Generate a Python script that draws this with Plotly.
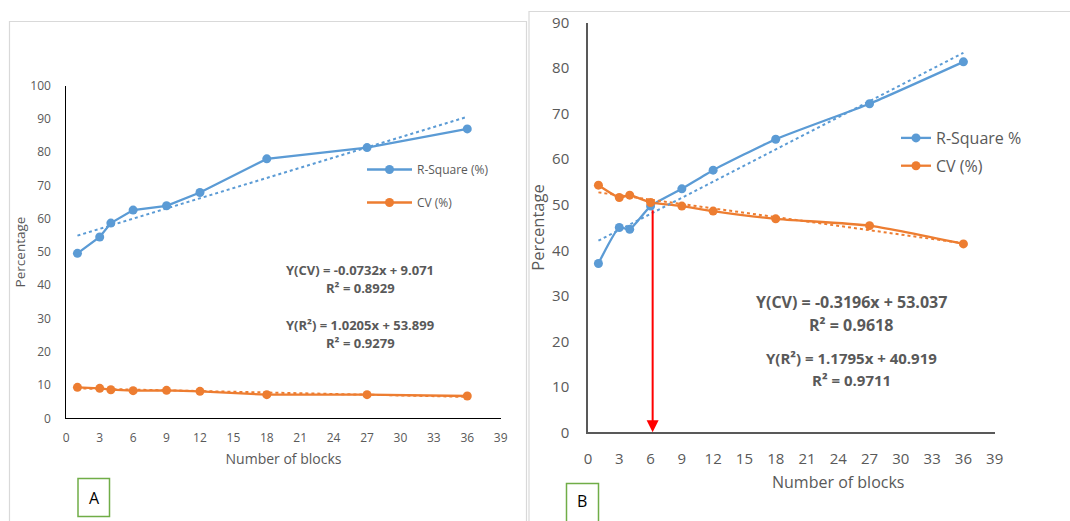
import plotly.graph_objects as go

# ---------------- data ----------------
blocks = [1, 3, 4, 6, 9, 12, 18, 27, 36]

a_rsq = [49.6, 54.5, 58.7, 62.6, 63.9, 67.9, 78.0, 81.4, 87.0]
a_cv = [9.3, 9.0, 8.6, 8.3, 8.4, 8.1, 7.1, 7.1, 6.7]

b_rsq = [37.1, 45.0, 44.6, 49.7, 53.5, 57.6, 64.4, 72.2, 81.4]
b_cv = [54.3, 51.6, 52.1, 50.5, 49.7, 48.6, 46.9, 45.4, 41.4]

# trend line coefficients (slope, intercept) as printed on the chart
a_rsq_fit = [1.0205, 53.899]
a_cv_fit = [-0.0732, 9.071]
b_rsq_fit = [1.1795, 40.919]
b_cv_fit = [-0.3196, 53.037]

x_ticks = [0, 3, 6, 9, 12, 15, 18, 21, 24, 27, 30, 33, 36, 39]
a_y_ticks = [0, 10, 20, 30, 40, 50, 60, 70, 80, 90, 100]
b_y_ticks = [0, 10, 20, 30, 40, 50, 60, 70, 80, 90]

optimum_blocks = 6.2
optimum_value = 49.1

BLUE = "#5B9BD5"
ORANGE = "#ED7D31"
GRAY = "#595959"
FONT = "Open Sans"

fig = go.Figure()

def trend(coef, xs):
    x0, x1 = min(xs), max(xs)
    return [x0, x1], [coef[0] * x0 + coef[1], coef[0] * x1 + coef[1]]

# ---------- panel A ----------
fig.add_trace(go.Scatter(x=blocks, y=a_rsq, mode="lines+markers", name="R-Square (%)",
                         line=dict(color=BLUE, width=2.3), marker=dict(size=9, color=BLUE),
                         xaxis="x", yaxis="y", legend="legend", legendgroup="a1"))
fig.add_trace(go.Scatter(x=blocks, y=a_cv, mode="lines+markers", name="CV (%)",
                         line=dict(color=ORANGE, width=2.3), marker=dict(size=9, color=ORANGE),
                         xaxis="x", yaxis="y", legend="legend", legendgroup="a2"))
tx, ty = trend(a_rsq_fit, blocks)
fig.add_trace(go.Scatter(x=tx, y=ty, mode="lines", showlegend=False,
                         line=dict(color=BLUE, width=2, dash="dot"), xaxis="x", yaxis="y"))
tx, ty = trend(a_cv_fit, blocks)
fig.add_trace(go.Scatter(x=tx, y=ty, mode="lines", showlegend=False,
                         line=dict(color=ORANGE, width=2, dash="dot"), xaxis="x", yaxis="y"))

# ---------- panel B ----------
fig.add_trace(go.Scatter(x=blocks, y=b_rsq, mode="lines+markers", name="R-Square %",
                         line=dict(color=BLUE, width=2.3, shape="spline", smoothing=0.5),
                         marker=dict(size=9, color=BLUE),
                         xaxis="x2", yaxis="y2", legend="legend2", legendgroup="b1"))
fig.add_trace(go.Scatter(x=blocks, y=b_cv, mode="lines+markers", name="CV (%)",
                         line=dict(color=ORANGE, width=2.3, shape="spline", smoothing=0.5),
                         marker=dict(size=9, color=ORANGE),
                         xaxis="x2", yaxis="y2", legend="legend2", legendgroup="b2"))
tx, ty = trend(b_rsq_fit, blocks)
fig.add_trace(go.Scatter(x=tx, y=ty, mode="lines", showlegend=False,
                         line=dict(color=BLUE, width=2, dash="dot"), xaxis="x2", yaxis="y2"))
tx, ty = trend(b_cv_fit, blocks)
fig.add_trace(go.Scatter(x=tx, y=ty, mode="lines", showlegend=False,
                         line=dict(color=ORANGE, width=2, dash="dot"), xaxis="x2", yaxis="y2"))

W, H = 1070, 521
def px_x(p):
    return p / W
def px_y(p):
    return 1 - p / H

axis_common = dict(showgrid=False, zeroline=False, ticks="", showline=True, automargin=False)

fig.update_layout(
    width=W, height=H, autosize=False,
    margin=dict(l=0, r=0, t=0, b=0, pad=0),
    paper_bgcolor="white", plot_bgcolor="white",
    font=dict(family=FONT, color=GRAY),
    hovermode=False,
    xaxis=dict(domain=[px_x(66.3), px_x(500.7)], range=[0, 39], tickvals=x_ticks,
               linecolor="#000000", linewidth=1, anchor="y",
               tickfont=dict(size=12, color=GRAY), ticklabelstandoff=8,
               title=dict(text="Number of blocks", font=dict(size=14, color=GRAY), standoff=9),
               **axis_common),
    yaxis=dict(domain=[px_y(418.3), px_y(85.7)], range=[0, 100], tickvals=a_y_ticks,
               linecolor="#000000", linewidth=1, anchor="x",
               tickfont=dict(size=12, color=GRAY), ticklabelstandoff=12,
               title=dict(text="Percentage", font=dict(size=13.5, color=GRAY), standoff=1),
               **axis_common),
    xaxis2=dict(domain=[px_x(588), px_x(994.7)], range=[0, 39], tickvals=x_ticks,
                linecolor=GRAY, linewidth=1.5, anchor="y2",
                tickfont=dict(size=15, color=GRAY), ticklabelstandoff=12,
                **axis_common),
    yaxis2=dict(domain=[px_y(432.3), px_y(22.7)], range=[0, 90], tickvals=b_y_ticks,
                linecolor=GRAY, linewidth=1.5, anchor="x2",
                tickfont=dict(size=15, color=GRAY), ticklabelstandoff=14,
                title=dict(text="Percentage", font=dict(size=16.5, color=GRAY), standoff=3),
                **axis_common),
    legend=dict(x=px_x(362), y=px_y(155), xanchor="left", yanchor="top",
                bgcolor="rgba(0,0,0,0)", font=dict(size=12, color=GRAY),
                tracegroupgap=14, itemwidth=45),
    legend2=dict(x=px_x(896), y=px_y(121), xanchor="left", yanchor="top",
                 bgcolor="rgba(0,0,0,0)", font=dict(size=16, color=GRAY),
                 tracegroupgap=4, itemwidth=30),
    showlegend=True,
)

# panel B x-axis title (offset to the right of the axis centre in the original)
fig.add_annotation(xref="paper", yref="paper", x=px_x(838), y=px_y(481.7),
                   xanchor="center", yanchor="middle", showarrow=False,
                   text="Number of blocks", font=dict(size=16, color=GRAY, family=FONT))

# equation annotations
eq_a = [("Y(CV) = -0.0732x + 9.071", 270), ("R² = 0.8929", 287.7),
        ("Y(R²) = 1.0205x + 53.899", 325), ("R² = 0.9279", 342.7)]
for text, yp in eq_a:
    fig.add_annotation(xref="paper", yref="paper", x=px_x(360), y=px_y(yp),
                       xanchor="center", yanchor="middle",
                       text=f"<b>{text}</b>", showarrow=False,
                       font=dict(size=13, color=GRAY, family=FONT))
eq_b = [("Y(CV) = -0.3196x + 53.037", 301.7, 16), ("R² = 0.9618", 325, 16),
        ("Y(R²) = 1.1795x + 40.919", 358.3, 15), ("R² = 0.9711", 380, 15)]
for text, yp, fs in eq_b:
    fig.add_annotation(xref="paper", yref="paper", x=px_x(851), y=px_y(yp),
                       xanchor="center", yanchor="middle",
                       text=f"<b>{text}</b>", showarrow=False,
                       font=dict(size=fs, color=GRAY, family=FONT))

# red arrow marking optimum
fig.add_annotation(xref="x2", yref="y2", x=optimum_blocks, y=0,
                   axref="x2", ayref="y2", ax=optimum_blocks, ay=optimum_value,
                   showarrow=True, arrowhead=2, arrowsize=1.2, arrowwidth=2,
                   arrowcolor="#FF0000", text="")

# panel borders
fig.add_shape(type="path", xref="paper", yref="paper",
              path=f"M {px_x(9.5)},{px_y(530)} L {px_x(9.5)},{px_y(21.5)} L {px_x(526.5)},{px_y(21.5)} L {px_x(526.5)},{px_y(530)}",
              line=dict(color="#D9D9D9", width=1.2))
fig.add_shape(type="path", xref="paper", yref="paper",
              path=f"M {px_x(529)},{px_y(530)} L {px_x(529)},{px_y(11.5)} L {px_x(1080)},{px_y(11.5)}",
              line=dict(color="#D9D9D9", width=1.2))

# panel labels in green boxes
fig.add_shape(type="rect", xref="paper", yref="paper",
              x0=px_x(78), x1=px_x(109.5), y0=px_y(516.5), y1=px_y(478.5),
              line=dict(color="#70AD47", width=1.5))
fig.add_annotation(xref="paper", yref="paper", x=px_x(94), y=px_y(498),
                   xanchor="center", yanchor="middle",
                   text="A", showarrow=False, font=dict(size=16, color="#000000", family=FONT))
fig.add_shape(type="rect", xref="paper", yref="paper",
              x0=px_x(566.5), x1=px_x(598.5), y0=px_y(540), y1=px_y(483.5),
              line=dict(color="#70AD47", width=1.5))
fig.add_annotation(xref="paper", yref="paper", x=px_x(582), y=px_y(501),
                   xanchor="center", yanchor="middle",
                   text="B", showarrow=False, font=dict(size=16, color="#000000", family=FONT))

fig.write_html("out.html", config={"displayModeBar": False},
               post_script="document.body.style.margin='0';")
